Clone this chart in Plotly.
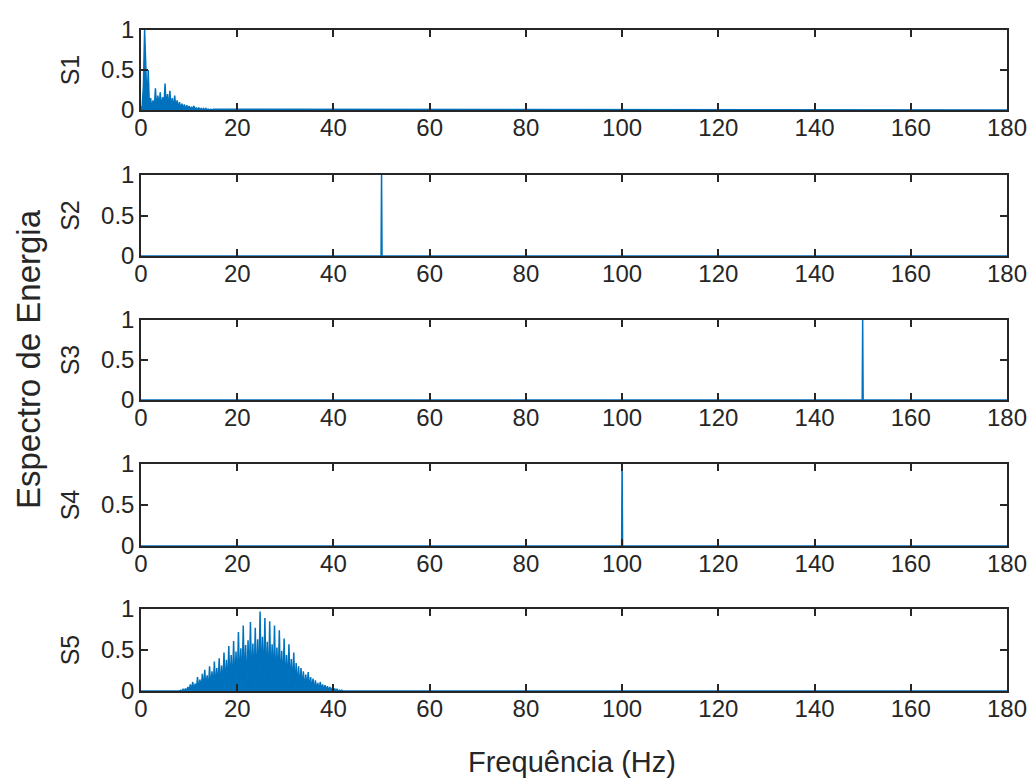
import plotly.graph_objects as go

# ---- data -------------------------------------------------------------
x_ticks = [0, 20, 40, 60, 80, 100, 120, 140, 160, 180]
y_ticks = [0, 0.5, 1]
y_tick_text = ["0", "0.5", "1"]
signal_names = ["S1", "S2", "S3", "S4", "S5"]

# S1: low-frequency content, 0.25 Hz bins from 0 to 15 Hz, then flat to 180 Hz
s1_freq = [0.0, 0.25, 0.5, 0.75, 1.0, 1.25, 1.5, 1.75, 2.0, 2.25, 2.5, 2.75,
           3.0, 3.25, 3.5, 3.75, 4.0, 4.25, 4.5, 4.75, 5.0, 5.25, 5.5, 5.75,
           6.0, 6.25, 6.5, 6.75, 7.0, 7.25, 7.5, 7.75, 8.0, 8.25, 8.5, 8.75,
           9.0, 9.25, 9.5, 9.75, 10.0, 10.25, 10.5, 10.75, 11.0, 11.25, 11.5,
           11.75, 12.0, 12.25, 12.5, 12.75, 13.0, 13.25, 13.5, 13.75, 14.0,
           14.25, 14.5, 14.75, 15.0, 180.0]
s1_energy = [0.02, 0.05, 0.30, 1.00, 0.55, 0.05, 0.50, 0.03, 0.15, 0.01, 0.12, 0.01,
             0.27, 0.01, 0.18, 0.02, 0.22, 0.01, 0.16, 0.02, 0.33, 0.01, 0.20, 0.02,
             0.24, 0.01, 0.15, 0.01, 0.18, 0.01, 0.12, 0.01, 0.10, 0.01, 0.08, 0.01,
             0.07, 0.00, 0.06, 0.01, 0.05, 0.00, 0.04, 0.01, 0.05, 0.00, 0.03,
             0.00, 0.03, 0.00, 0.02, 0.00, 0.02, 0.00, 0.02, 0.00, 0.01,
             0.00, 0.01, 0.00, 0.01, 0.00]

# S2, S3, S4: single tones at 50, 150 and 100 Hz
s2_freq = [0.0, 49.9, 50.0, 50.1, 180.0]
s2_energy = [0.0, 0.0, 1.0, 0.0, 0.0]
s3_freq = [0.0, 149.9, 150.0, 150.1, 180.0]
s3_energy = [0.0, 0.0, 1.0, 0.0, 0.0]
s4_freq = [0.0, 99.9, 100.0, 100.1, 180.0]
s4_energy = [0.0, 0.0, 1.0, 0.0, 0.0]

# S5: broadband content centred near 25 Hz, 0.25 Hz bins from 8 to 42 Hz
s5_freq = [0.0] + [8.0 + 0.25 * k for k in range(137)] + [180.0]
s5_energy = [0.0,
             0.00, 0.01, 0.00, 0.02, 0.00, 0.03, 0.00, 0.05, 0.00,
             0.08, 0.01, 0.11, 0.00, 0.09, 0.01, 0.17, 0.00,
             0.14, 0.01, 0.21, 0.00, 0.26, 0.01, 0.19, 0.00,
             0.30, 0.01, 0.24, 0.02, 0.36, 0.00, 0.28, 0.02,
             0.40, 0.01, 0.31, 0.03, 0.47, 0.01, 0.38, 0.02,
             0.55, 0.03, 0.44, 0.01, 0.61, 0.04, 0.48, 0.02,
             0.72, 0.03, 0.52, 0.01, 0.80, 0.04, 0.56, 0.02,
             0.62, 0.05, 0.84, 0.02, 0.58, 0.04, 0.77, 0.01,
             0.63, 0.03, 0.97, 0.05, 0.66, 0.02, 0.89, 0.04,
             0.60, 0.01, 0.85, 0.03, 0.57, 0.05, 0.80, 0.02,
             0.53, 0.04, 0.74, 0.01, 0.49, 0.03, 0.64, 0.02,
             0.44, 0.03, 0.57, 0.01, 0.39, 0.02, 0.47, 0.01,
             0.34, 0.02, 0.30, 0.01, 0.28, 0.02, 0.24, 0.00,
             0.20, 0.01, 0.23, 0.00, 0.17, 0.01, 0.15, 0.00,
             0.13, 0.01, 0.10, 0.00, 0.11, 0.01, 0.08, 0.00,
             0.07, 0.00, 0.06, 0.00, 0.05, 0.00, 0.04, 0.00,
             0.03, 0.00, 0.02, 0.00, 0.01, 0.00, 0.01, 0.00,
             0.0]

series = [(s1_freq, s1_energy), (s2_freq, s2_energy), (s3_freq, s3_energy),
          (s4_freq, s4_energy), (s5_freq, s5_energy)]

# ---- layout -----------------------------------------------------------
W, H = 1034, 779
L_MARGIN, R_MARGIN = 141, 27
panel_top_px = [30, 175, 320, 464, 609]
panel_bottom_px = [110, 256, 400, 546, 691]

LINE_COLOR = "#0072BD"
AXIS_COLOR = "#262626"
FONT = "Liberation Sans, Arial, sans-serif"
TICK_SIZE = 24

fig = go.Figure()
layout = dict(
    width=W, height=H, autosize=False,
    margin=dict(l=L_MARGIN, r=R_MARGIN, t=0, b=0, autoexpand=False),
    paper_bgcolor="white", plot_bgcolor="white",
    showlegend=False,
    font=dict(family=FONT, color=AXIS_COLOR, size=TICK_SIZE),
)

for i, ((fx, fy), name) in enumerate(zip(series, signal_names)):
    n = "" if i == 0 else str(i + 1)
    # the dense spectra are filled down to zero so the bins read as a solid band
    fig.add_trace(go.Scatter(
        x=fx, y=fy, mode="lines",
        line=dict(color=LINE_COLOR, width=1.5),
        fill="tozeroy", fillcolor=LINE_COLOR,
        xaxis="x" + n, yaxis="y" + n, hoverinfo="skip",
    ))
    dom = [1 - panel_bottom_px[i] / H, 1 - panel_top_px[i] / H]
    layout["xaxis" + n] = dict(
        domain=[0, 1], anchor="y" + n, range=[0, 180], automargin=False,
        tickvals=x_ticks, ticks="inside", ticklen=7, tickwidth=1.5,
        tickcolor=AXIS_COLOR, showline=True, linecolor=AXIS_COLOR,
        linewidth=1.5, mirror="ticks", showgrid=False, zeroline=False,
        ticklabelstandoff=-5,
        tickfont=dict(size=TICK_SIZE, color=AXIS_COLOR),
    )
    layout["yaxis" + n] = dict(
        domain=dom, anchor="x" + n, range=[0, 1], automargin=False,
        tickvals=y_ticks, ticktext=y_tick_text, ticks="inside", ticklen=7,
        tickwidth=1.5, tickcolor=AXIS_COLOR, showline=True,
        linecolor=AXIS_COLOR, linewidth=1.5, mirror="ticks",
        showgrid=False, zeroline=False,
        tickfont=dict(size=TICK_SIZE, color=AXIS_COLOR),
        title=dict(text=name, standoff=14,
                   font=dict(size=TICK_SIZE + 1, color=AXIS_COLOR)),
    )

fig.update_layout(**layout)

plot_w = W - L_MARGIN - R_MARGIN
fig.add_annotation(
    text="Espectro de Energia", xref="paper", yref="paper",
    x=(28 - L_MARGIN) / plot_w, y=1 - 359 / H,
    textangle=-90, showarrow=False, xanchor="center", yanchor="middle",
    font=dict(size=33, color=AXIS_COLOR, family=FONT),
)
fig.add_annotation(
    text="Frequência (Hz)", xref="paper", yref="paper",
    x=(572 - L_MARGIN) / plot_w, y=1 - 762 / H,
    showarrow=False, xanchor="center", yanchor="middle",
    font=dict(size=29, color=AXIS_COLOR, family=FONT),
)

fig.write_html("out.html")
